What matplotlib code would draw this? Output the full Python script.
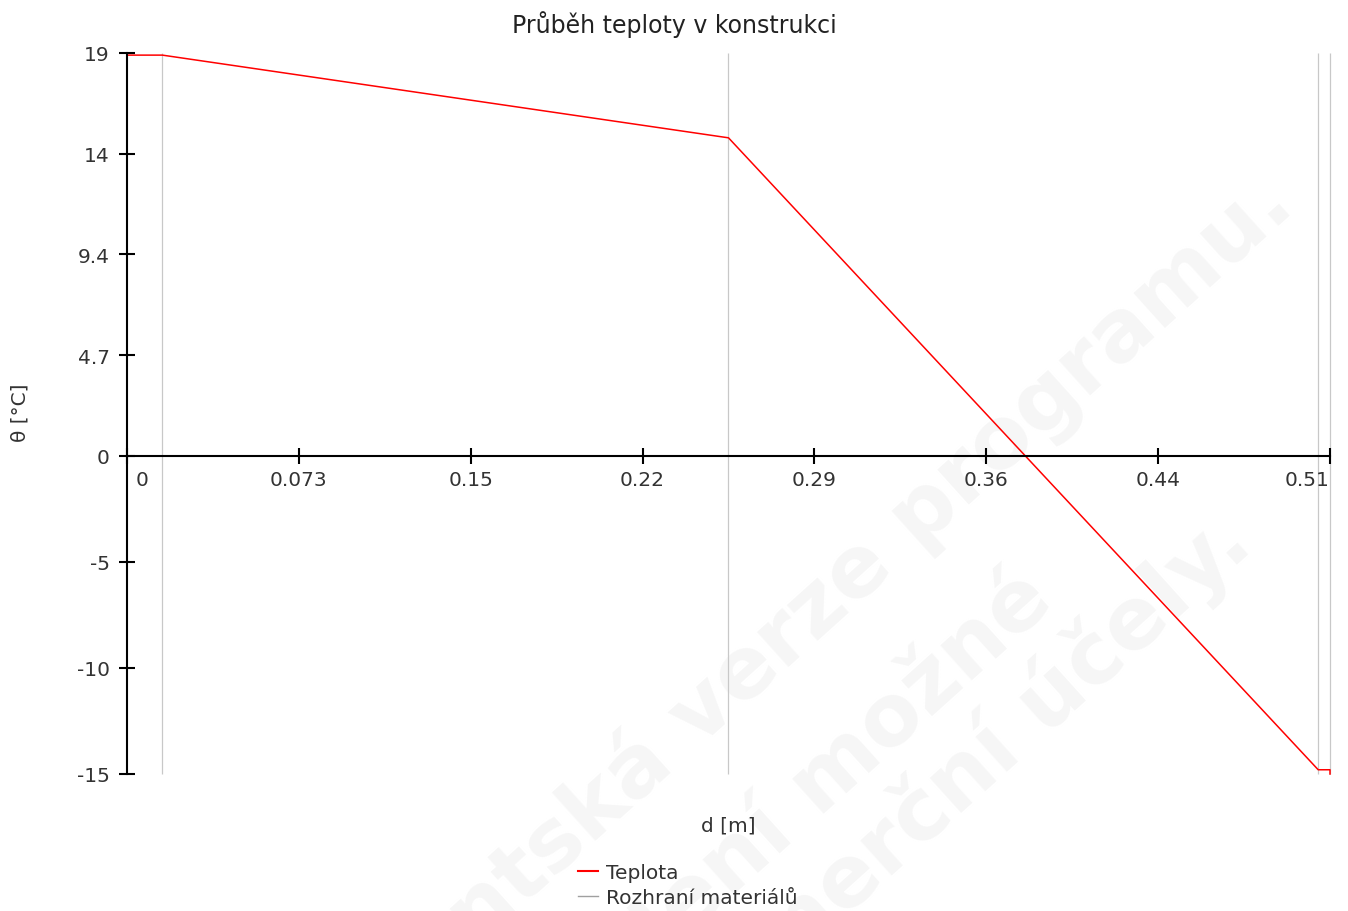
import matplotlib
matplotlib.use("Agg")
import matplotlib.pyplot as plt
from matplotlib.lines import Line2D
from matplotlib.transforms import ScaledTranslation

# ---- data ----
depth = [0.0, 0.015, 0.255, 0.505, 0.51, 0.51]
temperature = [18.9, 18.9, 15.0, -14.8, -14.8, -15.0]
interfaces = [0.015, 0.255, 0.505, 0.51]

x_max = 0.51
x_ticks = [x_max * k / 7 for k in range(8)]
x_tick_labels = ["0", "0.073", "0.15", "0.22", "0.29", "0.36", "0.44", "0.51"]
y_ticks = [19, 14.25, 9.5, 4.75, 0, -5, -10, -15]
y_tick_labels = ["19", "14", "9.4", "4.7", "0", "-5", "-10", "-15"]

title = "Průběh teploty v konstrukci"
x_label = "d [m]"
y_label = "θ [°C]"
legend_labels = ["Teplota", "Rozhraní materiálů"]
watermark_lines = ["Studentská verze programu.", "Není možné", "komerční účely."]

W, H = 1348, 912
fig = plt.figure(figsize=(W / 100, H / 100), dpi=100)
plt.rcParams['font.family'] = ['DejaVu Sans']

# watermark (very faint), one text per line
wm_centers = [(764, 655), (828, 778), (957, 783)]
for line, (cx, cy) in zip(watermark_lines, wm_centers):
    fig.text(cx / W, 1 - cy / H, line, fontsize=62, fontweight='bold',
             color='#f6f6f6', rotation=42, rotation_mode='anchor',
             ha='center', va='center', zorder=-5)

ax = fig.add_axes([127 / W, 1 - 775 / H, (1330 - 127) / W, (775 - 54) / H])
ax.patch.set_alpha(0)

ax.vlines(interfaces, -15, 19, colors='#c8c8c8', linewidth=0.9, clip_on=False, zorder=1)
ax.plot(depth, temperature, color='#ff0000', linewidth=1.1, clip_on=False, zorder=3)

ax.set_xlim(0, x_max)
ax.set_ylim(-15, 19)

for s in ['top', 'right']:
    ax.spines[s].set_visible(False)
ax.spines['bottom'].set_position(('data', 0))
ax.spines['bottom'].set_linewidth(1.5)
ax.spines['left'].set_linewidth(1.5)
ax.spines['bottom'].set_zorder(4)
ax.spines['left'].set_zorder(4)

ax.set_xticks(x_ticks)
ax.set_xticklabels(x_tick_labels)
ax.set_yticks(y_ticks)
ax.set_yticklabels(y_tick_labels)
ax.tick_params(axis='both', direction='inout', length=11, width=1.5,
               labelsize=14.5, labelcolor='#333333', color='black')
ax.tick_params(axis='x', pad=5)
ax.tick_params(axis='y', pad=7)

# shift the "0" x tick label right of the y axis, right-align the last one
xl = ax.get_xticklabels()
xl[0].set_transform(xl[0].get_transform() + ScaledTranslation(15 / 100, 0, fig.dpi_scale_trans))
xl[-1].set_horizontalalignment('right')

fig.text(0.5, 1 - 25 / H, title, ha='center', va='center', fontsize=17, color='#222222')
fig.text(728 / W, 1 - 826 / H, x_label, ha='center', va='center', fontsize=14.5, color='#333333')
fig.text(20 / W, 1 - 413 / H, y_label, ha='center', va='center', rotation=90,
         fontsize=14.5, color='#333333')

handles = [Line2D([], [], color='#ff0000', linewidth=1.5),
           Line2D([], [], color='#a0a0a0', linewidth=1.0)]
fig.legend(handles, legend_labels, loc='upper left', bbox_to_anchor=(578 / W, 1 - 864 / H),
           frameon=False, fontsize=14.5, handlelength=1.0, handletextpad=0.4,
           labelspacing=0.28, borderpad=0, borderaxespad=0, labelcolor='#333333')

fig.savefig("out.png", dpi=100)
